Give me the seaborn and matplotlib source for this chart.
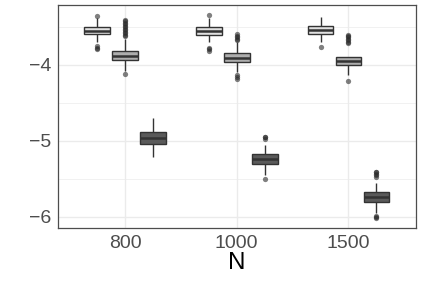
import pandas as pd
import matplotlib
matplotlib.use("Agg")
import matplotlib.pyplot as plt
import seaborn as sns

# categories
n_values = ["800", "1000", "1500"]
methods = ["light", "mid", "dark"]
fill_colors = ["#e0e0e0", "#adadad", "#5a5a5a"]

# box summaries, ordered N=800 (light, mid, dark), N=1000 (...), N=1500 (...)
box_q1 = [-3.603, -3.941, -5.042, -3.612, -3.963, -5.309, -3.603, -4.008, -5.805]
box_med = [-3.555, -3.884, -4.967, -3.559, -3.911, -5.243, -3.550, -3.954, -5.743]
box_q3 = [-3.507, -3.822, -4.892, -3.507, -3.853, -5.178, -3.493, -3.895, -5.682]
whisk_lo = [-3.700, -4.080, -5.221, -3.700, -4.100, -5.450, -3.708, -4.138, -5.958]
whisk_hi = [-3.392, -3.660, -4.708, -3.390, -3.700, -5.059, -3.371, -3.720, -5.560]
out_lo = [
    [-3.76, -3.78, -3.80], [-4.13], [],
    [-3.78, -3.80, -3.82], [-4.14, -4.16, -4.19], [-5.51],
    [-3.775], [-4.22], [-5.995, -6.01, -6.02],
]
out_hi = [
    [-3.358],
    [-3.63, -3.61, -3.59, -3.57, -3.55, -3.53, -3.51, -3.49, -3.47, -3.45, -3.43, -3.41],
    [],
    [-3.345], [-3.68, -3.66, -3.64, -3.62, -3.60], [-4.975, -4.96, -4.95],
    [], [-3.70, -3.68, -3.66, -3.64, -3.62, -3.61], [-5.48, -5.46, -5.44, -5.42, -5.41],
]

# rebuild sample values so the boxplot stats land on the read-off numbers
REP = 40
rows = []
i = 0
for n in n_values:
    for m in methods:
        vals = (out_lo[i] + [whisk_lo[i]] + [box_q1[i]] * REP + [box_med[i]] * REP
                + [box_q3[i]] * REP + [whisk_hi[i]] + out_hi[i])
        rows += [(n, m, v) for v in vals]
        i += 1
df = pd.DataFrame(rows, columns=["N", "method", "value"])

sns.set_style("white")
plt.rcParams["font.family"] = ["Liberation Sans", "DejaVu Sans"]

fig, ax = plt.subplots(figsize=(4.22, 2.82), dpi=100)
fig.subplots_adjust(left=0.1374, right=0.9846, bottom=0.1915, top=0.9823)

sns.boxplot(data=df, x="N", y="value", hue="method", order=n_values,
            hue_order=methods, palette=fill_colors, saturation=1,
            width=0.75, gap=0.08, linecolor="#333333", linewidth=1.0,
            showcaps=False,
            flierprops=dict(marker="o", markersize=3.8, markerfacecolor="#2b2b2b",
                            markeredgecolor="none", alpha=0.6),
            medianprops=dict(linewidth=1.8),
            legend=False, ax=ax)

ax.set_xlim(-0.6, 2.6)
ax.set_ylim(-6.151, -3.217)
ax.set_yticks([-6, -5, -4])
ax.set_yticks([-5.5, -4.5, -3.5], minor=True)
ax.grid(which="major", color="#ebebeb", linewidth=1.0)
ax.grid(which="minor", axis="y", color="#ebebeb", linewidth=0.5)
ax.set_axisbelow(True)

ax.tick_params(which="major", length=3, width=0.8, color="#4d4d4d",
               labelsize=14, labelcolor="#4d4d4d", pad=2)
ax.tick_params(which="minor", length=0)
for s in ax.spines.values():
    s.set_color("#4d4d4d")
    s.set_linewidth(0.9)

ax.set_xlabel("N", fontsize=17.5, color="black", labelpad=0)
ax.set_ylabel("")

fig.savefig("out.png", dpi=100)
